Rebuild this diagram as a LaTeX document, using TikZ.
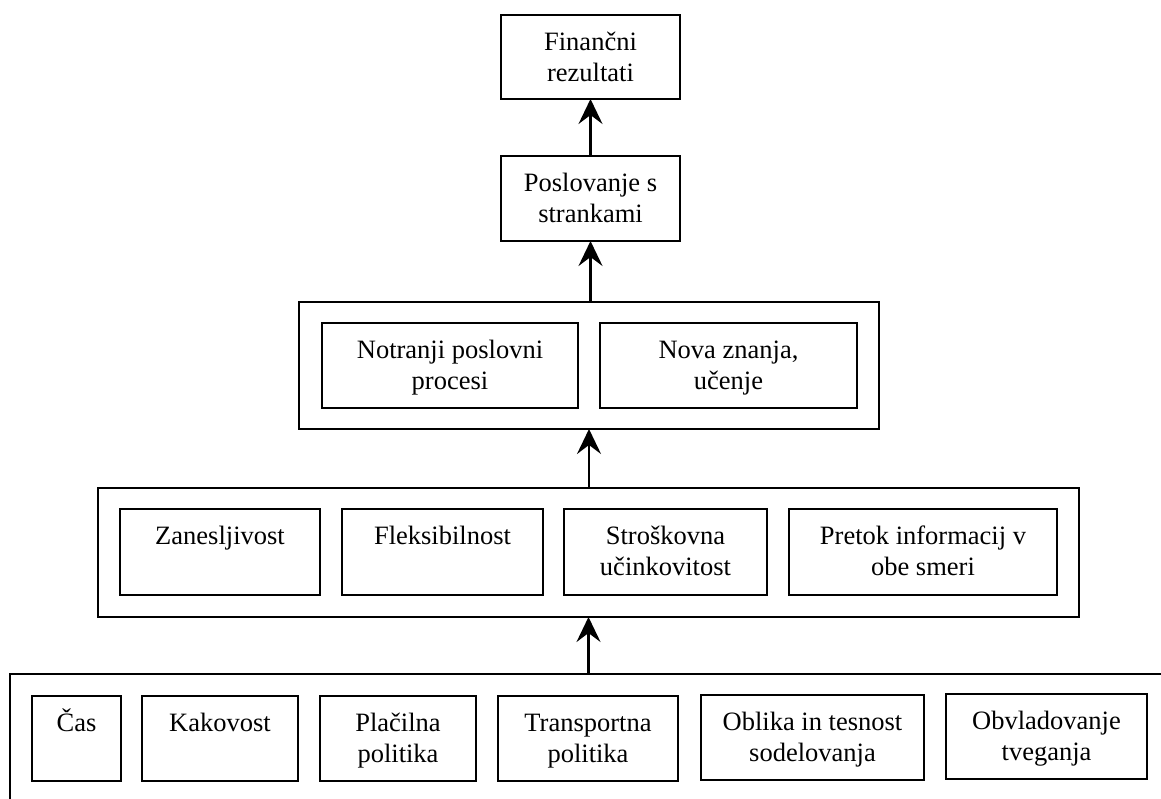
\documentclass[tikz,border=0pt]{standalone}
\usepackage{fontspec}
\setmainfont{Liberation Serif}
\usetikzlibrary{arrows.meta,calc}
% a framed box given by its corners (x1,y1)-(x2,y2), y growing downwards
\newcommand{\frameat}[5]{%
  \node[frame, minimum width={#4-#2}, minimum height={#5-#3}]
    (#1) at ({(#2+#4)/2},{(#3+#5)/2}) {};}
% centred text block whose first baseline sits a fixed distance below a box top
\newcommand{\boxtext}[2]{%
  \node[lbl] (#1-t) at ($(#1.north)+(0,35)$)
    {\begin{tabular}[t]{@{}c@{}}#2\end{tabular}};}
\begin{document}
\begin{tikzpicture}[x=1pt,y=-1pt,
  frame/.style={draw, line width=2.4pt, inner sep=0pt, outer sep=0pt},
  lbl/.style={anchor=base, inner sep=0pt, font=\fontsize{26.5}{31}\selectfont},
  up/.style={line width=2.4pt, -{Stealth[length=25pt,width=24pt,inset=9pt]}}]
\useasboundingbox (0,0) rectangle (1161,798);
\clip (0,0) rectangle (1161,798);

% top of the hierarchy
\frameat{fin}{501}{15}{680}{99}
\boxtext{fin}{Finančni\\rezultati}
\frameat{stranke}{501}{156}{680}{241}
\boxtext{stranke}{Poslovanje s\\strankami}

% internal processes and learning
\frameat{grpA}{299}{302}{879}{429}
\frameat{procesi}{322}{323}{578}{408}
\boxtext{procesi}{Notranji poslovni\\procesi}
\frameat{ucenje}{600}{323}{857}{408}
\boxtext{ucenje}{Nova znanja,\\učenje}

% performance criteria
\frameat{grpB}{98}{488}{1079}{617}
\frameat{zan}{120}{509}{320}{595}
\boxtext{zan}{Zanesljivost}
\frameat{fleks}{342}{509}{543}{595}
\boxtext{fleks}{Fleksibilnost}
\frameat{strosk}{564}{509}{767}{595}
\boxtext{strosk}{Stroškovna\\učinkovitost}
\frameat{pretok}{789}{509}{1057}{595}
\boxtext{pretok}{Pretok informacij v\\obe smeri}

% base factors (outer frame runs past the page edge)
\frameat{grpC}{10}{674}{1180}{820}
\frameat{cas}{32}{696}{121}{781}
\boxtext{cas}{Čas}
\frameat{kak}{142}{696}{298}{781}
\boxtext{kak}{Kakovost}
\frameat{plac}{320}{696}{476}{781}
\boxtext{plac}{Plačilna\\politika}
\frameat{trans}{498}{696}{678}{781}
\boxtext{trans}{Transportna\\politika}
\frameat{oblika}{701}{695}{924}{780}
\boxtext{oblika}{Oblika in tesnost\\sodelovanja}
\frameat{tveg}{946}{694}{1147}{779}
\boxtext{tveg}{Obvladovanje\\tveganja}

% upward links
\draw[up] (grpB.south |- grpC.north) -- (grpB.south);
\draw[up] (grpA.south |- grpB.north) -- (grpA.south);
\draw[up] (stranke.south |- grpA.north) -- (stranke.south);
\draw[up] (stranke.north) -- (fin.south);
\end{tikzpicture}
\end{document}
